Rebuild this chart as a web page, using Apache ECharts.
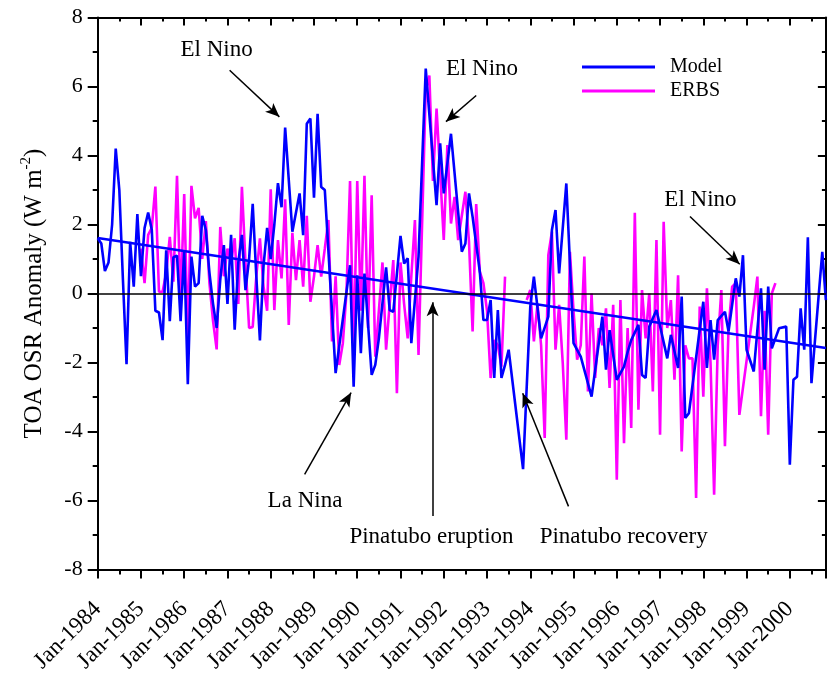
<!DOCTYPE html>
<html>
<head>
<meta charset="utf-8">
<script src="https://cdn.jsdelivr.net/npm/echarts@6/dist/echarts.min.js"></script>
<style>
html,body{margin:0;padding:0;background:#fff;}
#chart{width:828px;height:676px;}
</style>
</head>
<body>
<div id="chart"></div>
<script>
// ---- Data (month index from Jan-1984 = 0) ----
const yearLabels = ['1984','1985','1986','1987','1988','1989','1990','1991','1992','1993','1994','1995','1996','1997','1998','1999','2000'];

const modelMonth = [0,1,2,3,4,5,6,7,8,9,10,11,12,13,14,15,16,17,18,19,20,21,22,23,24,25,26,27,28,29,30,31,32,33,34,35,36,37,38,39,40,41,42,43,44,45,46,47,48,49,50,51,52,54,56,57,58,59,60,61,62,63,66,70,71,72,73,74,76,77,78,80,81,82,84,85,86,87,89,91,94,95,96,98,101,102,103,104,106,107,108,109,110,111,112,113,114,118,120,121,123,125,126,127,128,130,132,134,137,140,141,142,144,146,147,148,150,151,152,153,155,158,159,161,162,163,164,168,169,170,171,172,174,175,177,178,179,180,182,184,185,186,187,189,191,192,193,194,195,196,197,198,201,202];
const modelValue = [1.6,1.45,0.65,0.9,2.0,4.2,3.0,0.4,-2.05,1.5,0.2,2.3,0.5,1.9,2.35,1.85,-0.5,-0.55,-1.35,1.25,-0.8,1.05,1.1,-0.8,1.25,-2.63,1.07,0.2,0.3,2.25,1.84,0.6,-0.3,-1.0,0.4,1.4,-0.3,1.7,-1.05,0.9,1.7,0.1,1.0,2.6,0.5,-1.36,0.8,1.9,1.0,2.0,3.2,2.5,4.81,1.79,2.9,1.69,4.92,5.07,2.78,5.21,3.09,3.0,-2.31,0.82,-2.7,0.53,-1.73,0.58,-2.36,-2.07,-1.3,0.76,-0.48,-0.53,1.67,0.87,1.02,-1.44,1.07,6.52,2.56,4.35,2.9,4.63,1.21,1.45,2.9,2.22,0.63,-0.77,-0.77,-0.19,-2.45,-0.48,-2.45,-2.07,-1.63,-5.09,-0.38,0.49,-1.3,-0.67,1.84,2.42,0.58,3.19,-1.44,-1.83,-2.99,-0.67,-2.21,-1.06,-2.5,-2.12,-1.7,-1.35,-0.91,-2.36,-2.45,-0.96,-0.48,-1.88,-1.2,-2.16,-0.09,-3.61,-3.47,-0.24,-2.16,-0.77,-1.92,-0.77,-0.53,-1.1,0.44,-0.09,1.11,-1.63,-2.26,0.15,-2.21,0.2,-1.59,-1.01,-0.96,-4.96,-2.5,-2.41,-0.43,-1.63,1.63,-2.6,1.21,-0.19];

// null marks the 1993 data gap of ERBS
const erbsMonth = [12,13,14,15,16,17,18,19,20,21,22,23,24,25,26,27,28,29,30,31,32,33,34,35,36,37,38,39,40,41,42,43,44,45,46,47,48,49,50,51,52,53,54,55,56,57,58,59,60,61,62,63,64,65,66,67,68,69,70,71,72,73,74,75,76,77,78,79,80,81,82,83,84,85,86,87,88,89,91,92,93,94,95,96,97,98,99,100,102,103,104,105,106,107,108,109,110,111,112,113,116,119,120,121,122,123,124,125,126,127,128,129,130,131,132,133,134,135,136,137,138,139,140,141,142,143,144,145,146,147,148,149,150,151,152,153,154,155,156,157,158,159,160,161,162,163,164,165,166,167,168,169,170,171,172,173,174,175,176,177,178,182,183,184,185,186,187,188];
const erbsValue = [1.3,0.3,1.7,1.9,3.1,0.05,0.05,0.6,1.64,0.34,3.41,-0.24,2.88,-1.35,3.12,2.18,2.48,1.0,2.1,0.3,-0.8,-1.62,1.93,0.5,1.3,0.9,1.6,-0.3,3.09,0.9,-1.0,-0.97,0.5,1.6,0.2,-0.5,3.02,-0.48,1.55,0.44,2.73,-0.91,1.76,0.39,1.55,0.2,2.25,-0.24,0.49,1.4,0.49,1.3,2.13,-1.39,0.5,-2.07,-1.44,0.0,3.26,-1.83,3.26,-0.5,3.41,-1.0,2.85,-1.83,-0.5,0.9,-1.63,-0.3,0.97,-2.89,0.9,-0.3,-1.3,0.5,2.13,-1.78,5.9,6.32,3.26,5.36,3.5,1.55,4.3,2.03,2.8,1.55,2.95,1.5,-1.1,2.59,0.63,0.3,-0.5,-2.45,-1.35,-1.5,-2.12,0.49,null,-0.19,0.1,-1.39,-0.3,-1.5,-4.19,1.11,1.79,-1.63,-0.33,-2.0,-4.24,1.21,-0.5,-1.92,-1.5,1.07,-2.84,0.0,-2.45,-1.0,-1.5,-0.43,-2.74,-0.33,-5.4,-0.19,-4.34,-1.0,-3.9,2.34,-3.37,0.1,-1.3,0.0,-2.84,1.55,-4.09,2.08,-1.0,-0.19,-2.5,0.53,-4.58,-1.5,-1.88,-1.88,-5.93,-0.38,-2.99,0.15,-2.0,-5.83,-1.5,0.1,-4.43,-1.0,0.2,0.3,-3.52,-0.38,0.49,-3.56,-0.5,-4.09,0.0,0.3];

const trendMonth = [0, 202];
const trendValue = [1.61, -1.58];

const xMin = 0, xMax = 202;

// annotations: [text, textMonth, textValue, arrowFromMonth, arrowFromValue, arrowToMonth, arrowToValue]
const annotations = [
  ['El Nino', 33.0, 7.05, 36.6, 6.47, 50.4, 5.12],
  ['El Nino', 106.6, 6.5, 105.0, 5.74, 96.6, 4.98],
  ['El Nino', 167.2, 2.71, 164.3, 2.23, 178.1, 0.85],
  ['La Nina', 57.5, -6.0, 57.4, -5.24, 70.3, -2.87],
  ['Pinatubo eruption', 92.6, -7.05, 92.9, -6.45, 92.9, -0.25],
  ['Pinatubo recovery', 145.9, -7.05, 130.6, -6.17, 117.9, -2.89]
];

const pairs = (xs, ys) => xs.map((x, i) => [x, ys[i] === null ? '-' : ys[i]]);

const FONT = '"Liberation Serif","Times New Roman",serif';
const chart = echarts.init(document.getElementById('chart'), null, {renderer: 'canvas'});

const arrowLines = annotations.map(a => [
  {coord: [a[3], a[4]], symbol: 'none'},
  {coord: [a[5], a[6]], symbol: 'arrow', symbolSize: [9, 14]}
]);
const annoPoints = annotations.map(a => ({
  coord: [a[1], a[2]],
  symbol: 'circle', symbolSize: 0,
  label: {show: true, formatter: a[0], position: 'inside', color: '#000', fontFamily: FONT, fontSize: 23}
}));

const option = {
  backgroundColor: '#fff',
  animation: false,
  grid: {left: 97.7, right: 0, top: 17.5, bottom: 106.5, containLabel: false},
  legend: {
    show: true,
    orient: 'vertical',
    left: 577, top: 52,
    itemWidth: 73, itemHeight: 3,
    itemGap: 4,
    icon: 'rect',
    data: ['Model', 'ERBS'],
    textStyle: {fontFamily: FONT, fontSize: 20, color: '#000', padding: [0, 0, 0, 10]}
  },
  xAxis: [{
    type: 'value', min: xMin, max: xMax, interval: 12,
    position: 'bottom',
    axisLine: {show: true, onZero: false, lineStyle: {color: '#000', width: 2}},
    axisTick: {show: true, inside: false, length: 9, lineStyle: {color: '#000', width: 2}},
    minorTick: {show: true, splitNumber: 2, length: 5, lineStyle: {color: '#000', width: 2}},
    splitLine: {show: false},
    axisLabel: {
      show: true, rotate: 45, margin: 36, padding: [22, 0, 0, 0],
      fontFamily: FONT, fontSize: 23, color: '#000',
      formatter: v => { const k = Math.round(v / 12); return (k >= 0 && k < yearLabels.length) ? 'Jan-' + yearLabels[k] : ''; }
    }
  }, {
    type: 'value', min: xMin, max: xMax, interval: 12,
    position: 'top',
    axisLine: {show: true, onZero: false, lineStyle: {color: '#000', width: 2}},
    axisTick: {show: true, inside: true, length: 8, lineStyle: {color: '#000', width: 2}},
    minorTick: {show: true, splitNumber: 2, length: 4, lineStyle: {color: '#000', width: 2}},
    axisLabel: {show: false}, splitLine: {show: false}
  }],
  yAxis: [{
    type: 'value', min: -8, max: 8, interval: 2,
    position: 'left',
    axisLine: {show: true, onZero: false, lineStyle: {color: '#000', width: 2}},
    axisTick: {show: true, inside: false, length: 10, lineStyle: {color: '#000', width: 2}},
    minorTick: {show: true, splitNumber: 2, length: 5, lineStyle: {color: '#000', width: 2}},
    splitLine: {show: false},
    axisLabel: {show: true, margin: 15, fontFamily: FONT, fontSize: 22, color: '#000'},
    name: '{a|TOA OSR Anomaly (W m}{s|-2}{a|)}',
    nameLocation: 'middle', nameRotate: 90, nameGap: 51,
    nameTextStyle: {
      fontFamily: FONT, color: '#000',
      rich: {
        a: {fontFamily: FONT, fontSize: 25, color: '#000', lineHeight: 28, verticalAlign: 'bottom'},
        s: {fontFamily: FONT, fontSize: 15, color: '#000', lineHeight: 28, verticalAlign: 'top'}
      }
    }
  }, {
    type: 'value', min: -8, max: 8, interval: 2,
    position: 'right',
    axisLine: {show: true, onZero: false, lineStyle: {color: '#000', width: 2}},
    axisTick: {show: true, inside: true, length: 8, lineStyle: {color: '#000', width: 2}},
    minorTick: {show: true, splitNumber: 2, length: 4, lineStyle: {color: '#000', width: 2}},
    axisLabel: {show: false}, splitLine: {show: false}
  }],
  series: [
    {
      name: 'ERBS', type: 'line', xAxisIndex: 0, yAxisIndex: 0,
      data: pairs(erbsMonth, erbsValue), connectNulls: false,
      showSymbol: false, symbol: 'none',
      lineStyle: {color: '#ff00ff', width: 2.6}, itemStyle: {color: '#ff00ff'},
      clip: true, z: 2
    },
    {
      name: 'Model', type: 'line', xAxisIndex: 0, yAxisIndex: 0,
      data: pairs(modelMonth, modelValue),
      showSymbol: false, symbol: 'none',
      lineStyle: {color: '#0000ff', width: 2.6}, itemStyle: {color: '#0000ff'},
      clip: true, z: 3
    },
    {
      name: 'trend', type: 'line', xAxisIndex: 0, yAxisIndex: 0,
      data: pairs(trendMonth, trendValue),
      showSymbol: false, symbol: 'none',
      lineStyle: {color: '#0000ff', width: 2.6},
      clip: true, z: 4
    },
    {
      name: 'annot', type: 'line', xAxisIndex: 0, yAxisIndex: 0,
      data: [], z: 5,
      markLine: {
        silent: true, animation: false,
        symbol: ['none', 'arrow'],
        label: {show: false},
        lineStyle: {color: '#000', width: 1.5, type: 'solid'},
        data: arrowLines.concat([[{coord: [xMin, 0], symbol: 'none'}, {coord: [xMax, 0], symbol: 'none'}]])
      },
      markPoint: {
        silent: true, animation: false,
        data: annoPoints
      }
    }
  ]
};
chart.setOption(option);
</script>
</body>
</html>
